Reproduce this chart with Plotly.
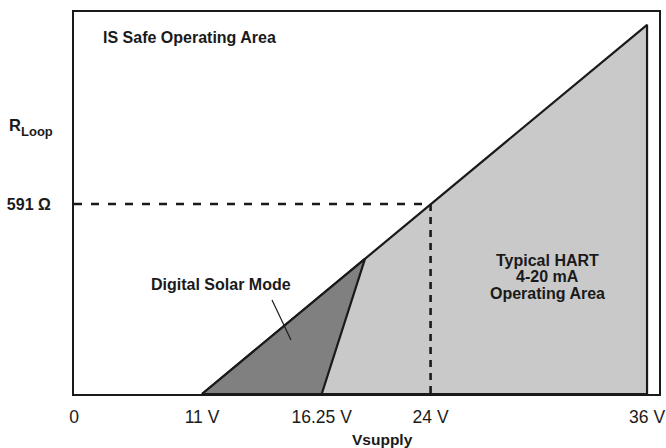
import plotly.graph_objects as go

# Vsupply axis marks (schematic axis, not to scale)
vsupply_labels = ["0", "11 V", "16.25 V", "24 V", "36 V"]
vsupply_pos = [0.0, 8.04, 15.56, 22.40, 36.0]

# Loop resistance values (ohms)
r_mark = 591          # R_Loop at 24 V
r_max = 1148          # R_Loop at 36 V
r_solar_top = 420     # upper corner of the Digital Solar Mode region
v_solar_top = 18.28   # axis position of that corner

v0, v11, v16, v24, v36 = vsupply_pos

INK = "#1a1a1a"
FONT = "Liberation Sans, Arial, Helvetica, sans-serif"

fig = go.Figure()

# Typical HART 4-20 mA operating area
fig.add_trace(go.Scatter(
    x=[v11, v36, v36, v11], y=[0, r_max, 0, 0],
    mode="lines", fill="toself", fillcolor="#c9c9c9",
    line=dict(color=INK, width=2.2), hoverinfo="skip", showlegend=False))

# Digital Solar Mode region
fig.add_trace(go.Scatter(
    x=[v11, v_solar_top, v16, v11], y=[0, r_solar_top, 0, 0],
    mode="lines", fill="toself", fillcolor="#808080",
    line=dict(color=INK, width=2.2), hoverinfo="skip", showlegend=False))

# 591 ohm / 24 V guide lines
fig.add_trace(go.Scatter(
    x=[v0, v24], y=[r_mark, r_mark], mode="lines",
    line=dict(color=INK, width=2.6, dash="8px,9px"),
    hoverinfo="skip", showlegend=False))
fig.add_trace(go.Scatter(
    x=[v24, v24], y=[r_mark, 0], mode="lines",
    line=dict(color=INK, width=2.6, dash="7px,6px"),
    hoverinfo="skip", showlegend=False))

# leader line for the Digital Solar Mode label
fig.add_shape(type="line", x0=12.44, y0=292, x1=13.63, y1=168,
              line=dict(color=INK, width=1.2))

bold = dict(family=FONT, size=16, color=INK)
notes = [
    dict(x=1.70, y=1110, text="<b>IS Safe Operating Area</b>", xanchor="left"),
    dict(x=9.24, y=342, text="<b>Digital Solar Mode</b>", xanchor="center"),
    dict(x=29.72, y=414, text="<b>Typical HART</b>", xanchor="center"),
    dict(x=29.72, y=364, text="<b>4-20 mA</b>", xanchor="center"),
    dict(x=29.72, y=314, text="<b>Operating Area</b>", xanchor="center"),
]
for n in notes:
    fig.add_annotation(**n, yanchor="middle", showarrow=False, font=bold)

fig.add_annotation(x=19.35, xref="x", y=-0.12, yref="paper",
                   text="<b>Vsupply</b>", showarrow=False,
                   xanchor="center", yanchor="middle",
                   font=dict(family=FONT, size=15.5, color=INK))

# R_Loop axis label: main letter and subscript
fig.add_annotation(x=-0.0875, xref="paper", y=837, yref="y",
                   text="<b>R</b>", showarrow=False,
                   xanchor="right", yanchor="middle",
                   font=dict(family=FONT, size=16.5, color=INK))
fig.add_annotation(x=-0.0935, xref="paper", y=815, yref="y",
                   text="<b>Loop</b>", showarrow=False,
                   xanchor="left", yanchor="middle",
                   font=dict(family=FONT, size=13, color=INK))

fig.update_layout(
    width=666, height=448,
    margin=dict(l=74, r=7, t=12, b=54, autoexpand=False),
    paper_bgcolor="white", plot_bgcolor="white",
    font=dict(family=FONT, color=INK),
    xaxis=dict(range=[0, 36.75], showgrid=False, zeroline=False, automargin=False,
               showline=True, mirror=True, linecolor=INK, linewidth=2,
               tickvals=vsupply_pos, ticktext=vsupply_labels,
               ticks="outside", ticklen=6, tickcolor="rgba(0,0,0,0)",
               tickfont=dict(family=FONT, size=17.5, color=INK)),
    yaxis=dict(range=[0, 1188], showgrid=False, zeroline=False, automargin=False,
               showline=True, mirror=True, linecolor=INK, linewidth=2,
               tickvals=[r_mark], ticktext=["<b>591 Ω</b>"],
               ticks="outside", ticklen=18, tickcolor="rgba(0,0,0,0)",
               tickfont=dict(family=FONT, size=16, color=INK)),
)

fig.write_html("out.html")
